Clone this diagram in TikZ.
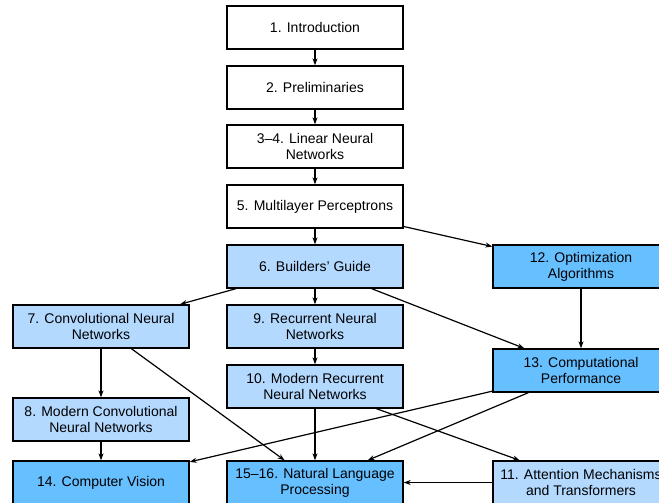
\documentclass[tikz,border=0pt]{standalone}
\usepackage{fontspec}
\setmainfont{Liberation Sans}
\usetikzlibrary{arrows.meta, positioning}
\definecolor{ChapWhite}{HTML}{FFFFFF}
\definecolor{ChapLight}{HTML}{B3D9FF}
\definecolor{ChapMid}{HTML}{66BFFF}

\begin{document}
\begin{tikzpicture}[
    x=1pt, y=-1pt,
    >=Stealth,
    chap/.style={
        draw=black,
        line width=1.3pt,
        fill=ChapWhite,
        minimum width=176pt,
        minimum height=43pt,
        inner sep=0pt,
        align=center,
        font=\fontsize{14}{16}\selectfont
    },
    base/.style={chap, fill=ChapLight},
    adv/.style={chap, fill=ChapMid},
    every edge/.style={draw=black, line width=1.2pt, -{Stealth[length=7pt,width=5pt]}}
]
\useasboundingbox (0,0) rectangle (659,503);

\node[chap] (C1) at (315, 27.5) {1. Introduction};
\node[chap] (C2) at (315, 87.5) {2. Preliminaries};
\node[chap] (C3) at (315, 146.5) {3--4. Linear Neural\\Networks};
\node[chap] (C5) at (315, 206.5) {5. Multilayer Perceptrons};
\node[base] (C6) at (315, 266.5) {6. Builders' Guide};
\node[base] (C7) at (101, 326.5) {7. Convolutional Neural\\Networks};
\node[base] (C9) at (315, 326.5) {9. Recurrent Neural\\Networks};
\node[base] (C8) at (101, 419.5) {8. Modern Convolutional\\Neural Networks};
\node[base] (C10) at (315, 386.5) {10. Modern Recurrent\\Neural Networks};
\node[adv] (C12) at (581, 266.5) {12. Optimization\\Algorithms};
\node[adv] (C13) at (581, 370.5) {13. Computational\\Performance};
\node[adv] (C14) at (101, 482.5) {14. Computer Vision};
\node[adv] (C15) at (315, 482.5) {15--16. Natural Language\\Processing};
\node[base] (C11) at (581, 482.5) {11. Attention Mechanisms\\and Transformers};

\path (C1) edge (C2);
\path (C2) edge (C3);
\path (C3) edge (C5);
\path (C5) edge (C6);
\path (C5) edge (C12);
\path (C6) edge (C7);
\path (C6) edge (C9);
\path (C6) edge (C13);
\path (C7) edge (C8);
\path (C7) edge (C15);
\path (C8) edge (C14);
\path (C9) edge (C10);
\path (C10) edge (C15);
\path (C10) edge (C11);
\path (C12) edge (C13);
\path (C13) edge (C14);
\path (C13) edge (C15);
\path (C11) edge (C15);
\end{tikzpicture}
\end{document}
